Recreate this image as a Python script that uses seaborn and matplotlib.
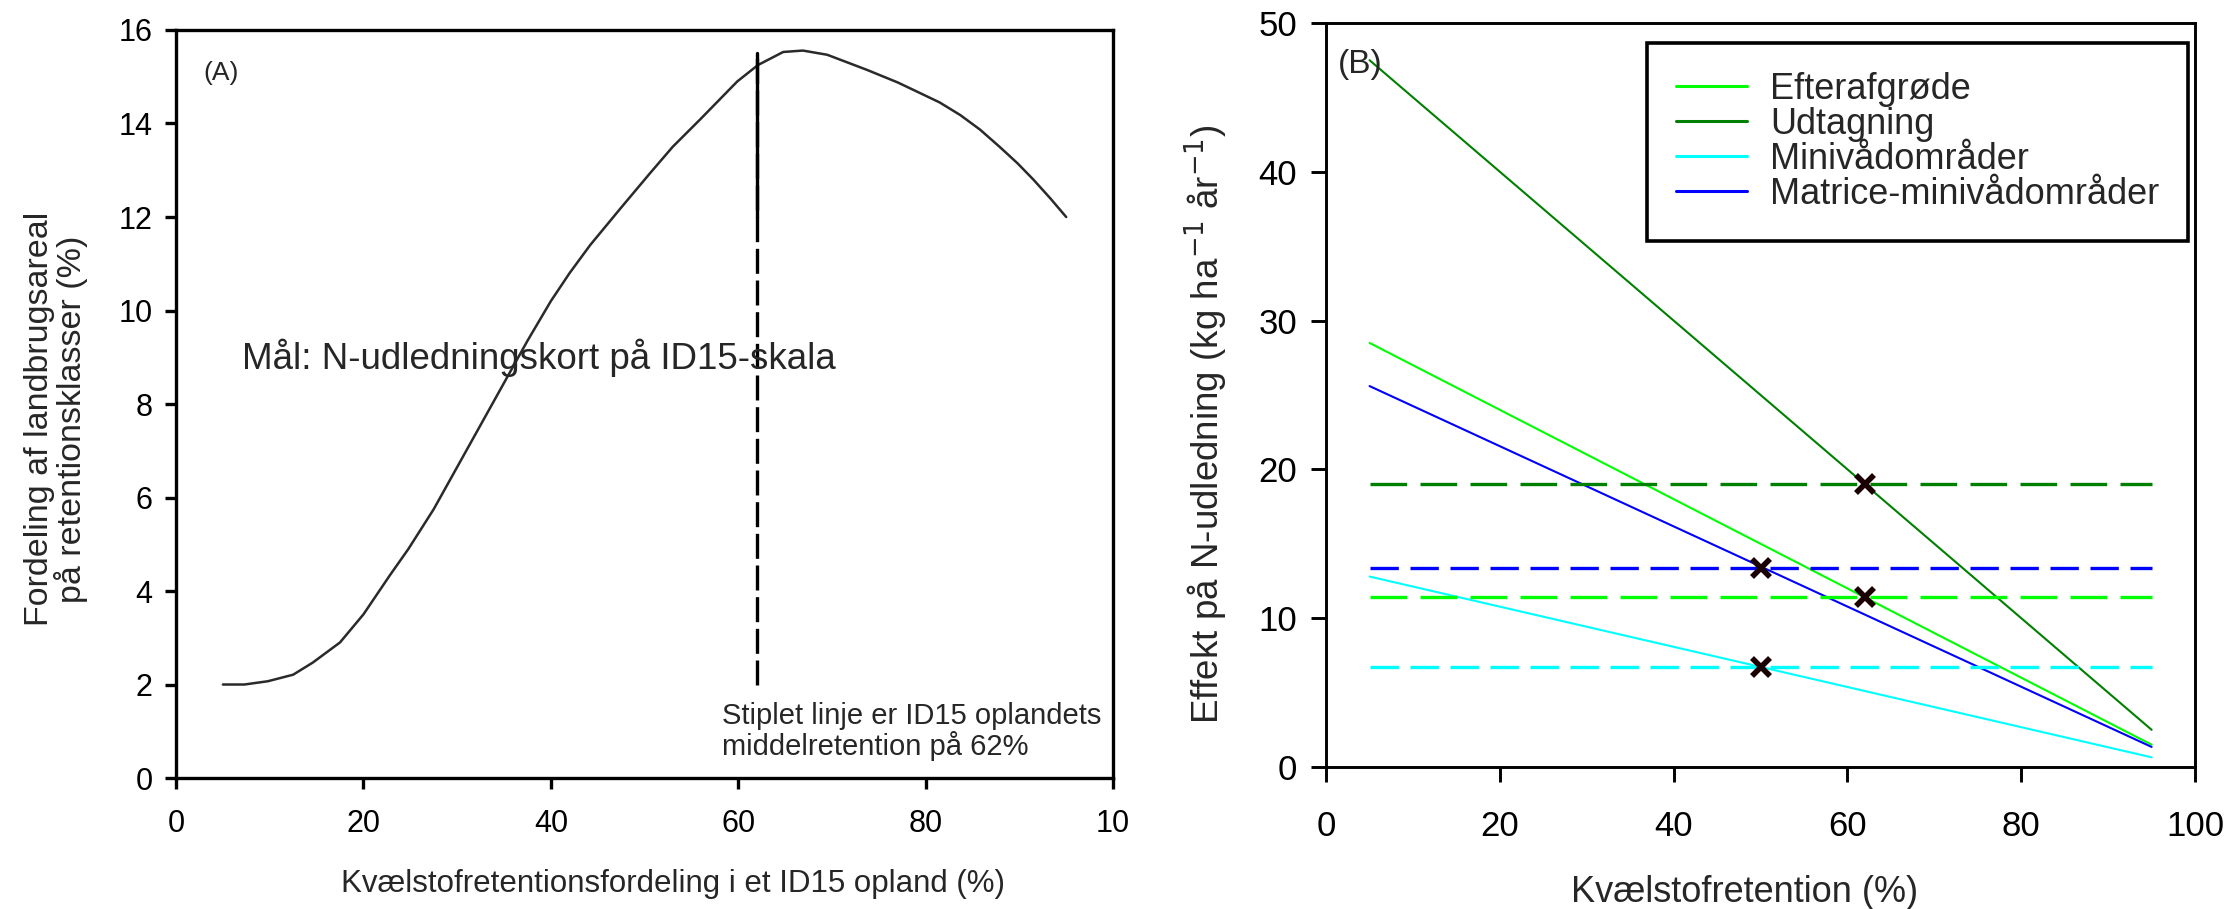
import matplotlib
matplotlib.use("Agg")
import matplotlib.pyplot as plt
import pandas as pd
import seaborn as sns

# (A) share of agricultural area per retention class
retention_a = [5, 7.3, 9.8, 12.5, 14.6, 17.5, 20, 22.8, 24.8, 27.5, 30, 32.5,
               35, 37.5, 40, 42, 44.2, 47.5, 50.6, 53, 55.9, 59.9, 62.1, 64.8,
               66.9, 69.5, 73.7, 77, 79.1, 81.5, 83.7, 85.8, 87.9, 89.8, 91.5,
               93.3, 95]
share_a = [2.0, 2.0, 2.07, 2.21, 2.47, 2.9, 3.5, 4.33, 4.9, 5.75, 6.65, 7.55,
           8.45, 9.35, 10.2, 10.8, 11.4, 12.2, 12.94, 13.5, 14.08, 14.9, 15.25,
           15.53, 15.56, 15.47, 15.15, 14.88, 14.68, 14.45, 14.18, 13.87, 13.5,
           13.15, 12.8, 12.4, 12.0]
mean_retention = 62
mean_line_span = [2.0, 15.5]

# (B) effect of measures on N-leaching
measures = ["Efterafgrøde", "Udtagning", "Minivådområder", "Matrice-minivådområder"]
colors = ["#00ff00", "#008000", "#00ffff", "#0000ff"]
line_x = [5, 95]
line_start = [28.5, 47.5, 12.8, 25.6]
line_end = [1.5, 2.5, 0.65, 1.35]
target_level = [11.4, 19.0, 6.7, 13.4]
target_x = [62, 62, 50, 50]

sns.set_theme(style="ticks")
plt.rcParams["font.family"] = ["Liberation Sans", "DejaVu Sans"]
plt.rcParams["xtick.color"] = "black"
plt.rcParams["ytick.color"] = "black"
plt.rcParams["axes.edgecolor"] = "black"

fig = plt.figure(figsize=(22.31, 9.09), dpi=100)
ax1 = fig.add_axes([0.0789, 0.1441, 0.42, 0.8229])
ax2 = fig.add_axes([0.5944, 0.1562, 0.3895, 0.8185])

# ---- panel A ----
df_a = pd.DataFrame({"retention": retention_a, "share": share_a})
sns.lineplot(data=df_a, x="retention", y="share", ax=ax1, color="#2a2a2a", lw=1.8)
ax1.plot([mean_retention] * 2, mean_line_span, color="black", lw=2.4,
         dashes=(7.5, 2))
ax1.plot([mean_retention] * 2, [12.0, mean_line_span[1]], color="black", lw=2.4)
ax1.set_xlim(0, 100)
ax1.set_ylim(0, 16)
ax1.set_xticks([0, 20, 40, 60, 80, 100])
ax1.set_xticklabels(["0", "20", "40", "60", "80", "10"])
ax1.set_yticks(range(0, 17, 2))
for sp in ax1.spines.values():
    sp.set_linewidth(2.4)
ax1.tick_params(axis="both", length=8, width=2.4, labelsize=22)
ax1.tick_params(axis="x", pad=14)
ax1.tick_params(axis="y", pad=9)
ax1.set_xlabel("Kvælstofretentionsfordeling i et ID15 opland (%)", fontsize=22.5)
ax1.xaxis.label.set_va("center")
ax1.xaxis.set_label_coords(0.53, -0.142)
ax1.set_ylabel("Fordeling af landbrugsareal\npå retentionsklasser (%)",
               fontsize=24.5, linespacing=0.95)
ax1.yaxis.label.set_va("center")
ax1.yaxis.set_label_coords(-0.128, 0.48)
ax1.text(2.9, 15.08, "(A)", fontsize=19, va="center")
ax1.text(7.0, 8.98, "Mål: N-udledningskort på ID15-skala", fontsize=26.5,
         va="center")
ax1.text(58.3, 1.0, "Stiplet linje er ID15 oplandets\nmiddelretention på 62%",
         fontsize=21, va="center", linespacing=1.05)

# ---- panel B ----
rows = []
for name, s, e in zip(measures, line_start, line_end):
    rows.append({"measure": name, "x": line_x[0], "y": s})
    rows.append({"measure": name, "x": line_x[1], "y": e})
df_b = pd.DataFrame(rows)
sns.lineplot(data=df_b, x="x", y="y", hue="measure", palette=colors,
             hue_order=measures, ax=ax2, lw=1.5, legend=False)

for name, col, lvl, tx in zip(measures, colors, target_level, target_x):
    dash = (11, 4) if name in ("Udtagning", "Efterafgrøde") else (8.5, 3.5)
    ax2.plot(line_x, [lvl, lvl], color=col, lw=2.4, dashes=dash)
    ax2.plot([tx], [lvl], marker="x", color="#1a0000", ms=13, mew=4,
             zorder=5)

handles = [plt.Line2D([], [], color=c, lw=2.2) for c in colors]
leg = ax2.legend(handles, measures, loc="upper right", fontsize=26,
                 frameon=True, fancybox=False, borderpad=0.8,
                 borderaxespad=0, handlelength=1.97, handletextpad=0.64,
                 labelspacing=0.0, bbox_to_anchor=(0.992, 0.973))
leg.get_frame().set_edgecolor("black")
leg.get_frame().set_linewidth(2.6)
leg.get_frame().set_alpha(1)

ax2.set_xlim(0, 100)
ax2.set_ylim(0, 50)
ax2.set_xticks(range(0, 101, 20))
ax2.set_yticks(range(0, 51, 10))
for sp in ax2.spines.values():
    sp.set_linewidth(2.1)
ax2.tick_params(axis="both", length=11, width=2.1, labelsize=25)
ax2.tick_params(axis="x", pad=20)
ax2.tick_params(axis="y", pad=10)
ax2.set_xlabel("Kvælstofretention (%)", fontsize=26)
ax2.xaxis.label.set_va("center")
ax2.xaxis.set_label_coords(0.481, -0.169)
ax2.set_ylabel("Effekt på N-udledning (kg ha$^{-1}$ år$^{-1}$)", fontsize=26.5)
ax2.yaxis.label.set_va("center")
ax2.yaxis.set_label_coords(-0.138, 0.461)
ax2.text(1.4, 47.2, "(B)", fontsize=24, va="center")

fig.savefig("out.png", dpi=100)
